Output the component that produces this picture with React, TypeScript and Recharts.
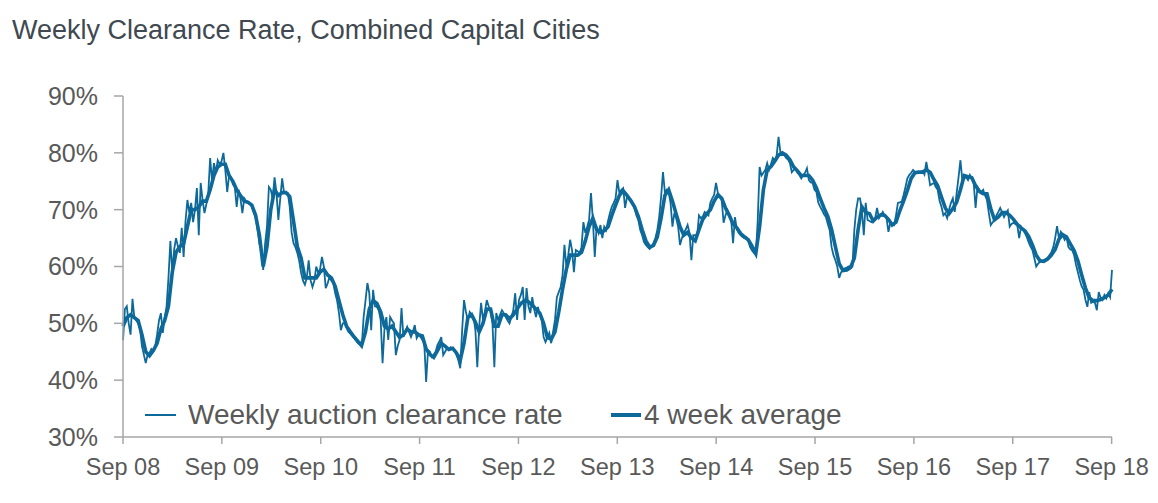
import React from 'react';
import { LineChart, Line, XAxis, YAxis } from 'recharts';

const xTickLabels = ['Sep 08', 'Sep 09', 'Sep 10', 'Sep 11', 'Sep 12', 'Sep 13', 'Sep 14', 'Sep 15', 'Sep 16', 'Sep 17', 'Sep 18'];
const yTicks = [30, 40, 50, 60, 70, 80, 90];
const WEEKS_PER_YEAR = 52.18;
const seriesNames = ['Weekly auction clearance rate', '4 week average'];

// Weekly auction clearance rate (%), one value per week from Sep 2008
const weekly08 = [47, 52.5, 53, 50, 48, 54.3, 51, 50.5, 50, 49, 46, 44.5, 43, 44.5, 44.8, 45.5, 45.2, 46, 48, 50.5, 51.8, 48.3, 51, 53, 58, 64.5, 59, 63, 65, 63.5, 62.4, 66.8, 61.7, 68, 71.7, 69.5, 71.2, 67.8, 70, 73.8, 65.5, 74.7, 71.7, 69.4, 71, 72.9, 79.1, 75, 78.2, 76.5, 78.7, 78];
const weekly09 = [78.5, 80, 77, 73.1, 76, 75.7, 74.5, 74, 70.5, 73.5, 72, 69.4, 72, 71.5, 71.4, 71, 70.5, 69.5, 68.7, 66.5, 64, 62.9, 59.4, 64, 67, 74, 73.5, 72, 75.7, 73, 68.2, 72, 75.5, 73, 72.9, 72.9, 70.5, 66, 64.1, 63.4, 62.4, 61, 58.9, 57.5, 56.8, 58, 61.1, 57.6, 56.4, 57.5, 60, 58.9];
const weekly10 = [59.5, 61.7, 60, 56.2, 57, 58.2, 57.5, 57.1, 55.3, 54, 51.8, 48.8, 50, 50, 49.2, 48.5, 48.2, 47.8, 47.4, 47, 46.5, 46.2, 45.8, 51.1, 54, 57.1, 55.3, 48.8, 55.9, 53, 52.9, 52.3, 50.6, 43, 49, 51.1, 47.1, 51.1, 50.5, 50, 44.4, 46, 47.1, 52.7, 47.6, 48.5, 49.4, 48.5, 47.6, 48.5, 49.7, 47.4];
const weekly11 = [48, 47.6, 47.1, 46.5, 39.7, 45.3, 45, 44.1, 44.5, 45, 46.2, 46.8, 47.6, 44.4, 45, 45.6, 45.5, 45.8, 45.5, 45.3, 44.5, 43.5, 42.1, 48.8, 54.1, 52, 50.6, 52, 51.5, 51.1, 48.8, 42.3, 49.4, 53.6, 50.6, 52, 54.1, 53, 52.3, 50, 42.3, 51.8, 50.6, 51.5, 52.3, 51.8, 51.1, 50.5, 50, 51.1, 52.3, 55.3];
const weekly12 = [50.6, 54.1, 55, 56.4, 50.6, 56.2, 53, 51.8, 54.6, 52.5, 51.1, 52.9, 51.5, 50.6, 47.6, 46.7, 47.5, 48.3, 46.5, 48.5, 50.6, 54.6, 55.5, 56.4, 58.5, 63.8, 60, 62, 64.7, 62.9, 59, 62.9, 62.7, 62.4, 63.4, 67.8, 65.9, 67, 68.2, 72.9, 68.2, 61.7, 67, 65.9, 67.3, 65, 67, 66.4, 68, 69.4, 70.5, 71.2];
const weekly13 = [72, 75.2, 72.9, 73.5, 73.8, 70.3, 72.2, 72, 71.7, 71, 70.3, 69, 68.2, 66.4, 65.5, 64.3, 63.8, 63.4, 63.1, 63.5, 64.1, 65, 66.4, 68.7, 72.2, 76.6, 73.1, 73.5, 73.1, 71.2, 67, 69.4, 68.5, 67, 63.8, 65, 65.9, 66.5, 67.3, 65.9, 61.1, 65.5, 65.5, 65.2, 69, 68.5, 68.8, 69.6, 69.3, 69, 71.2, 72];
const weekly14 = [72.6, 74.7, 72.9, 72.5, 71.7, 67.7, 69, 69.9, 69, 68.2, 64.1, 68.7, 66.5, 65.9, 65.5, 65.2, 65, 65.2, 64.5, 63.4, 62.8, 62.4, 62, 68, 77.5, 76, 76.5, 77, 78.2, 77, 78, 79.1, 78.7, 79.5, 82.8, 80, 79.8, 79.6, 79.1, 78.8, 78.2, 76.6, 77, 77.3, 76.5, 76.1, 75.5, 76.1, 76.5, 77.3, 75.2, 74.8];
const weekly15 = [74.7, 73.5, 73.1, 71.2, 70.5, 69.9, 69.2, 68.7, 67.5, 66.4, 63.4, 62, 61.1, 60, 58, 59, 59.3, 59.7, 59.8, 60, 60, 60, 66.4, 70, 72, 72, 69.9, 65.5, 71.2, 68.2, 68, 67.8, 68.2, 68.5, 70.3, 68.5, 69, 69.6, 69, 68.5, 66.1, 67.7, 67.5, 67.3, 69, 71.2, 71.3, 71.4, 72.6, 74, 75.5, 76.1];
const weekly16 = [76.5, 77, 76.6, 76.5, 76.5, 76.6, 76.8, 76.2, 78.4, 76.5, 74.3, 74.5, 74.7, 74, 73.5, 71.5, 70.5, 69, 69.4, 68.5, 70, 71.2, 72, 69.6, 72.9, 75.7, 78.7, 75.2, 75.5, 75.7, 75.2, 76.1, 75.5, 74.7, 70.3, 74, 73.5, 73.1, 73.5, 72.5, 71.7, 69.4, 67.3, 67.8, 68.2, 69, 69.6, 70.3, 69.5, 68.7, 69.4, 69.9];
const weekly17 = [67, 67.5, 67.7, 67.5, 67.3, 65, 67, 66.5, 65.9, 65.2, 64.3, 63.5, 62.9, 61.5, 60, 60.5, 60.8, 61, 61.1, 61.3, 61.5, 62, 62.5, 63.4, 65, 67.1, 65, 66.1, 65.5, 64.7, 65.2, 63.4, 63, 62.9, 62, 60.3, 59, 57.6, 56.5, 55.9, 54.1, 52.9, 55.5, 53.6, 53.8, 53.6, 52.3, 55.5, 54.5, 54.1, 55, 54.4, 55.3, 54.6, 59.4];

// 4 week average (%), one value every second week from Sep 2008
const avg08 = [49.5, 51, 51.5, 51, 50.5, 48, 45, 44.3, 45.2, 46.5, 49, 50.5, 53, 59, 62.5, 63.5, 64, 67, 70, 70, 70.5, 71.5, 71.5, 73.5, 76, 77.5];
const avg09 = [78, 78, 76, 75, 73.5, 72.5, 71.5, 71.3, 70.8, 69, 65.5, 60, 63.5, 70, 73.5, 72.5, 73, 73, 72.3, 68, 63.5, 61.5, 58, 58, 58, 58];
const avg10 = [59, 59.5, 58.5, 58, 56.5, 54, 51.5, 49.5, 48.5, 47.6, 46.8, 46.2, 48.5, 52.5, 54, 53.5, 52, 49.5, 49, 49.5, 48.5, 47.5, 48, 49, 48.5, 48.5];
const avg11 = [48, 47.8, 45.5, 44.5, 44, 45.2, 46.5, 46, 45.4, 45.6, 44.8, 43.5, 46.5, 51, 51.5, 50.2, 48.5, 50, 52.5, 52.5, 49.5, 49.5, 51.5, 51.5, 50.8, 51.5];
const avg12 = [52.5, 53.5, 54, 53.8, 53.2, 52.5, 51.8, 50, 47.5, 47.2, 48.5, 52, 56, 59.5, 62, 62, 62, 62.5, 64.5, 67, 68.5, 66.5, 66, 66.3, 67, 69];
const avg13 = [70.8, 72.5, 73.3, 72.5, 71.6, 70.5, 68.8, 66.5, 64.5, 63.4, 63.7, 65.2, 68.5, 72.5, 73.5, 71.5, 69.2, 67, 65.5, 66, 65, 64.5, 66.5, 68.3, 69.2, 70];
const avg14 = [71.5, 72.6, 72, 70.3, 69, 67.5, 66.8, 65.8, 65.2, 64.7, 63.6, 62.3, 67, 73.5, 77, 77.6, 78.5, 79.6, 80, 79.6, 78.8, 77.5, 76.8, 76, 76, 76];
const avg15 = [75.2, 73.8, 72, 70.3, 68.8, 66.5, 63.5, 60.5, 59.3, 59.4, 59.8, 61.5, 66.5, 70.5, 69.5, 69.3, 68, 68.7, 69.1, 69, 68.3, 67.3, 67.8, 69.8, 71.5, 73.4];
const avg16 = [75.5, 76.5, 76.6, 76.6, 77, 76.6, 75.3, 74.2, 72.2, 70.3, 69.3, 70.2, 71.3, 73.5, 76, 75.8, 75.6, 74.2, 73.2, 72.8, 72.8, 70.2, 68.2, 68.7, 69.5, 69.5];
const avg17 = [69, 68.3, 67.4, 66.8, 66.3, 65.3, 63.8, 62, 61, 60.9, 61.3, 62, 63, 64.8, 65.6, 65.2, 64, 62.8, 61, 58.5, 56.2, 54.5, 54, 54, 54.2, 54.5, 55, 56];

const weeklyRate = [...weekly08, ...weekly09, ...weekly10, ...weekly11, ...weekly12, ...weekly13, ...weekly14, ...weekly15, ...weekly16, ...weekly17];
const avgRate = [...avg08, ...avg09, ...avg10, ...avg11, ...avg12, ...avg13, ...avg14, ...avg15, ...avg16, ...avg17];

const weeklyData = weeklyRate.map((v, i) => ({ week: i, value: v }));
const avgData = avgRate.map((v, i) => ({ week: i * 2, value: v }));
const xTicks = xTickLabels.map((_, k) => k * WEEKS_PER_YEAR);

const LINE_COLOR = '#0D699A';
const AXIS_COLOR = '#A6A6A6';
const TEXT_COLOR = '#595959';
const FONT = '"Liberation Sans", Arial, sans-serif';

export default function App() {
  return (
    <div style={{ position: 'fixed', left: 0, top: 0, width: 1158, height: 503, background: '#fff', fontFamily: FONT }}>
      <div style={{ position: 'absolute', left: 12, top: 17, fontSize: 27, lineHeight: 1, color: '#404850', whiteSpace: 'nowrap' }}>
        Weekly Clearance Rate, Combined Capital Cities
      </div>
      <LineChart width={1158} height={503} margin={{ top: 96, right: 46, left: 0, bottom: 0 }}>
        <XAxis
          type="number"
          dataKey="week"
          domain={[0, 522]}
          ticks={xTicks}
          interval={0}
          tickFormatter={(v: number) => xTickLabels[Math.round(v / WEEKS_PER_YEAR)]}
          height={66}
          tickSize={7}
          tickMargin={14}
          axisLine={{ stroke: AXIS_COLOR, strokeWidth: 1.5 }}
          tickLine={{ stroke: AXIS_COLOR, strokeWidth: 1.5 }}
          tick={{ fill: TEXT_COLOR, fontSize: 23.5, fontFamily: FONT }}
        />
        <YAxis
          type="number"
          domain={[30, 90]}
          ticks={yTicks}
          interval={0}
          tickFormatter={(v: number) => `${v}%`}
          width={123}
          tickSize={9}
          tickMargin={16}
          axisLine={{ stroke: AXIS_COLOR, strokeWidth: 1.5 }}
          tickLine={{ stroke: AXIS_COLOR, strokeWidth: 1.5 }}
          tick={{ fill: TEXT_COLOR, fontSize: 25, fontFamily: FONT }}
        />
        <Line data={weeklyData} dataKey="value" type="linear" stroke={LINE_COLOR} strokeWidth={1.8} dot={false} isAnimationActive={false} name={seriesNames[0]} />
        <Line data={avgData} dataKey="value" type="linear" stroke={LINE_COLOR} strokeWidth={3.6} dot={false} isAnimationActive={false} name={seriesNames[1]} />
      </LineChart>
      <div style={{ position: 'absolute', left: 145, top: 401, height: 28, display: 'flex', alignItems: 'center', fontSize: 28, lineHeight: 1, color: TEXT_COLOR, whiteSpace: 'nowrap' }}>
        <div style={{ width: 31, height: 2, background: LINE_COLOR, marginRight: 12 }} />
        <span>{seriesNames[0]}</span>
      </div>
      <div style={{ position: 'absolute', left: 611, top: 401, height: 28, display: 'flex', alignItems: 'center', fontSize: 28, lineHeight: 1, color: TEXT_COLOR, whiteSpace: 'nowrap' }}>
        <div style={{ width: 30, height: 4, background: LINE_COLOR, marginRight: 3 }} />
        <span>{seriesNames[1]}</span>
      </div>
    </div>
  );
}
